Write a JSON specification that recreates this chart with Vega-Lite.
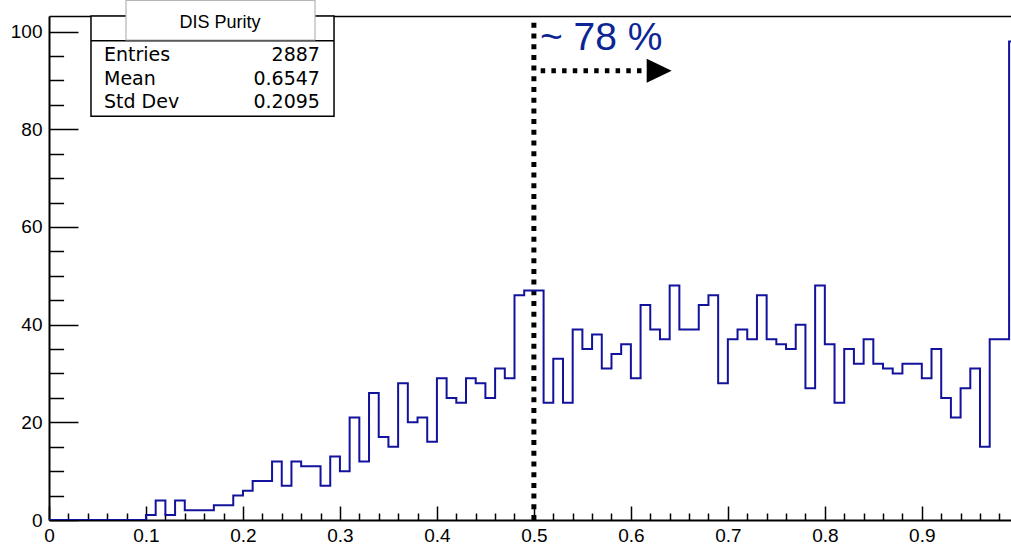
{
  "$schema": "https://vega.github.io/schema/vega-lite/v6.json",
  "width": 963,
  "height": 504,
  "autosize": {"type": "none"},
  "padding": {"left": 49, "top": 16, "right": 0, "bottom": 25},
  "background": "white",
  "config": {
    "view": {"stroke": null},
    "axis": {"grid": false, "labelFont": "Liberation Sans", "labelFontSize": 19, "labelColor": "black", "domainColor": "black", "tickColor": "black", "zindex": 1, "title": null}
  },
  "datasets": {
    "hist": [
      {"purity": 0.00, "entries": 0}, {"purity": 0.01, "entries": 0}, {"purity": 0.02, "entries": 0}, {"purity": 0.03, "entries": 0}, {"purity": 0.04, "entries": 0},
      {"purity": 0.05, "entries": 0}, {"purity": 0.06, "entries": 0}, {"purity": 0.07, "entries": 0}, {"purity": 0.08, "entries": 0}, {"purity": 0.09, "entries": 0},
      {"purity": 0.10, "entries": 1}, {"purity": 0.11, "entries": 4}, {"purity": 0.12, "entries": 1}, {"purity": 0.13, "entries": 4}, {"purity": 0.14, "entries": 2},
      {"purity": 0.15, "entries": 2}, {"purity": 0.16, "entries": 2}, {"purity": 0.17, "entries": 3}, {"purity": 0.18, "entries": 3}, {"purity": 0.19, "entries": 5},
      {"purity": 0.20, "entries": 6}, {"purity": 0.21, "entries": 8}, {"purity": 0.22, "entries": 8}, {"purity": 0.23, "entries": 12}, {"purity": 0.24, "entries": 7},
      {"purity": 0.25, "entries": 12}, {"purity": 0.26, "entries": 11}, {"purity": 0.27, "entries": 11}, {"purity": 0.28, "entries": 7}, {"purity": 0.29, "entries": 13},
      {"purity": 0.30, "entries": 10}, {"purity": 0.31, "entries": 21}, {"purity": 0.32, "entries": 12}, {"purity": 0.33, "entries": 26}, {"purity": 0.34, "entries": 17},
      {"purity": 0.35, "entries": 15}, {"purity": 0.36, "entries": 28}, {"purity": 0.37, "entries": 20}, {"purity": 0.38, "entries": 21}, {"purity": 0.39, "entries": 16},
      {"purity": 0.40, "entries": 29}, {"purity": 0.41, "entries": 25}, {"purity": 0.42, "entries": 24}, {"purity": 0.43, "entries": 29}, {"purity": 0.44, "entries": 28},
      {"purity": 0.45, "entries": 25}, {"purity": 0.46, "entries": 31}, {"purity": 0.47, "entries": 29}, {"purity": 0.48, "entries": 46}, {"purity": 0.49, "entries": 47},
      {"purity": 0.50, "entries": 47}, {"purity": 0.51, "entries": 24}, {"purity": 0.52, "entries": 33}, {"purity": 0.53, "entries": 24}, {"purity": 0.54, "entries": 39},
      {"purity": 0.55, "entries": 35}, {"purity": 0.56, "entries": 38}, {"purity": 0.57, "entries": 31}, {"purity": 0.58, "entries": 34}, {"purity": 0.59, "entries": 36},
      {"purity": 0.60, "entries": 29}, {"purity": 0.61, "entries": 44}, {"purity": 0.62, "entries": 39}, {"purity": 0.63, "entries": 37}, {"purity": 0.64, "entries": 48},
      {"purity": 0.65, "entries": 39}, {"purity": 0.66, "entries": 39}, {"purity": 0.67, "entries": 44}, {"purity": 0.68, "entries": 46}, {"purity": 0.69, "entries": 28},
      {"purity": 0.70, "entries": 37}, {"purity": 0.71, "entries": 39}, {"purity": 0.72, "entries": 37}, {"purity": 0.73, "entries": 46}, {"purity": 0.74, "entries": 37},
      {"purity": 0.75, "entries": 36}, {"purity": 0.76, "entries": 35}, {"purity": 0.77, "entries": 40}, {"purity": 0.78, "entries": 27}, {"purity": 0.79, "entries": 48},
      {"purity": 0.80, "entries": 36}, {"purity": 0.81, "entries": 24}, {"purity": 0.82, "entries": 35}, {"purity": 0.83, "entries": 32}, {"purity": 0.84, "entries": 37},
      {"purity": 0.85, "entries": 32}, {"purity": 0.86, "entries": 31}, {"purity": 0.87, "entries": 30}, {"purity": 0.88, "entries": 32}, {"purity": 0.89, "entries": 32},
      {"purity": 0.90, "entries": 29}, {"purity": 0.91, "entries": 35}, {"purity": 0.92, "entries": 25}, {"purity": 0.93, "entries": 21}, {"purity": 0.94, "entries": 27},
      {"purity": 0.95, "entries": 31}, {"purity": 0.96, "entries": 15}, {"purity": 0.97, "entries": 37}, {"purity": 0.98, "entries": 37}, {"purity": 0.99, "entries": 98},
      {"purity": 1.00, "entries": 98}
    ],
    "stats": [
      {"stat": "Entries", "value": "2887"},
      {"stat": "Mean", "value": "0.6547"},
      {"stat": "Std Dev", "value": "0.2095"}
    ],
    "one": [{"cut": 0.5, "label": "~ 78 %", "title": "DIS Purity"}]
  },
  "layer": [
    {
      "data": {"name": "one"},
      "mark": {"type": "rule", "strokeDash": [5, 5.7], "strokeWidth": 5, "color": "black"},
      "encoding": {
        "x": {"field": "cut", "type": "quantitative", "scale": {"domain": [0, 0.993], "nice": false, "zero": false},
              "axis": {"orient": "bottom", "values": [0.02,0.04,0.06,0.08,0.12,0.14,0.16,0.18,0.22,0.24,0.26,0.28,0.32,0.34,0.36,0.38,0.42,0.44,0.46,0.48,0.52,0.54,0.56,0.58,0.62,0.64,0.66,0.68,0.72,0.74,0.76,0.78,0.82,0.84,0.86,0.88,0.92,0.94,0.96,0.98],
                       "tickSize": -7, "tickWidth": 1.5, "labels": false, "domain": false}},
        "y": {"datum": 0, "type": "quantitative", "scale": {"domain": [0, 103.2], "nice": false, "zero": false},
              "axis": {"orient": "left", "values": [5,10,15,25,30,35,45,50,55,65,70,75,85,90,95], "tickSize": -14.6, "tickWidth": 1.5, "labels": false, "domain": false}},
        "y2": {"datum": 103.2}
      }
    },
    {
      "data": {"name": "hist"},
      "mark": {"type": "line", "interpolate": "step-after", "color": "#12129c", "strokeWidth": 2, "clip": true},
      "encoding": {
        "x": {"field": "purity", "type": "quantitative", "scale": {"domain": [0, 0.993], "nice": false, "zero": false},
              "axis": {"orient": "bottom", "values": [0,0.1,0.2,0.3,0.4,0.5,0.6,0.7,0.8,0.9], "format": "~g", "tickSize": -14, "tickWidth": 1.5, "labelPadding": 20, "domainWidth": 2, "labelFlush": false}},
        "y": {"field": "entries", "type": "quantitative", "scale": {"domain": [0, 103.2], "nice": false, "zero": false},
              "axis": {"orient": "left", "values": [0,20,40,60,80,100], "format": "d", "tickSize": -29, "tickWidth": 1.5, "labelPadding": 36, "domainWidth": 2}}
      }
    },
    {
      "data": {"name": "one"},
      "mark": {"type": "rule", "strokeDash": [4.5, 6.2], "strokeWidth": 5, "color": "black"},
      "encoding": {
        "x": {"datum": 0.507, "type": "quantitative", "scale": {"domain": [0, 0.993], "nice": false, "zero": false},
              "axis": {"orient": "top", "ticks": false, "labels": false, "domainWidth": 1.5, "zindex": 0}},
        "x2": {"datum": 0.615},
        "y": {"datum": 92.0, "type": "quantitative", "scale": {"domain": [0, 103.2], "nice": false, "zero": false}, "axis": null}
      }
    },
    {
      "data": {"name": "one"},
      "mark": {"type": "point", "shape": "M-1,-0.96L1,0L-1,0.96Z", "size": 625, "filled": true, "color": "black", "opacity": 1, "strokeWidth": 0},
      "encoding": {
        "x": {"datum": 0.6292, "type": "quantitative", "scale": {"domain": [0, 0.993], "nice": false, "zero": false}, "axis": null},
        "y": {"datum": 92.0, "type": "quantitative", "scale": {"domain": [0, 103.2], "nice": false, "zero": false}, "axis": null}
      }
    },
    {
      "data": {"name": "one"},
      "mark": {"type": "text", "align": "left", "baseline": "alphabetic", "font": "Liberation Sans", "fontSize": 39, "color": "#0c2594"},
      "encoding": {
        "x": {"datum": 0.5063, "type": "quantitative", "scale": {"domain": [0, 0.993], "nice": false, "zero": false}, "axis": null},
        "y": {"datum": 96.24, "type": "quantitative", "scale": {"domain": [0, 103.2], "nice": false, "zero": false}, "axis": null},
        "text": {"field": "label"}
      }
    },
    {
      "data": {"name": "one"},
      "mark": {"type": "rect", "fill": "white", "stroke": "black", "strokeWidth": 1.5, "clip": false},
      "encoding": {
        "x": {"datum": 0.0433, "type": "quantitative", "scale": {"domain": [0, 0.993], "nice": false, "zero": false}, "axis": null},
        "x2": {"datum": 0.2939},
        "y": {"datum": 82.66, "type": "quantitative", "scale": {"domain": [0, 103.2], "nice": false, "zero": false}, "axis": null},
        "y2": {"datum": 103.2}
      }
    },
    {
      "data": {"name": "one"},
      "mark": {"type": "rule", "stroke": "black", "strokeWidth": 1.5},
      "encoding": {
        "x": {"datum": 0.0433, "type": "quantitative", "scale": {"domain": [0, 0.993], "nice": false, "zero": false}, "axis": null},
        "x2": {"datum": 0.2939},
        "y": {"datum": 98.14, "type": "quantitative", "scale": {"domain": [0, 103.2], "nice": false, "zero": false}, "axis": null}
      }
    },
    {
      "data": {"name": "one"},
      "mark": {"type": "rect", "fill": "white", "stroke": "#b5b5b5", "strokeWidth": 1.2, "clip": false},
      "encoding": {
        "x": {"datum": 0.0794, "type": "quantitative", "scale": {"domain": [0, 0.993], "nice": false, "zero": false}, "axis": null},
        "x2": {"datum": 0.2743},
        "y": {"datum": 98.29, "type": "quantitative", "scale": {"domain": [0, 103.2], "nice": false, "zero": false}, "axis": null},
        "y2": {"datum": 106.4}
      }
    },
    {
      "data": {"name": "one"},
      "mark": {"type": "text", "align": "center", "baseline": "alphabetic", "font": "Liberation Sans", "fontSize": 18, "color": "black", "clip": false},
      "encoding": {
        "x": {"datum": 0.1763, "type": "quantitative", "scale": {"domain": [0, 0.993], "nice": false, "zero": false}, "axis": null},
        "y": {"datum": 100.68, "type": "quantitative", "scale": {"domain": [0, 103.2], "nice": false, "zero": false}, "axis": null},
        "text": {"field": "title"}
      }
    },
    {
      "data": {"name": "stats"},
      "transform": [{"filter": "datum.stat == 'Entries'"}],
      "layer": [
        {"mark": {"type": "text", "align": "left", "baseline": "alphabetic", "font": "DejaVu Sans", "fontSize": 19, "color": "black"},
         "encoding": {"text": {"field": "stat"},
           "x": {"datum": 0.0567, "type": "quantitative", "scale": {"domain": [0, 0.993], "nice": false, "zero": false}, "axis": null}}},
        {"mark": {"type": "text", "align": "right", "baseline": "alphabetic", "font": "DejaVu Sans", "fontSize": 19, "color": "black"},
         "encoding": {"text": {"field": "value"},
           "x": {"datum": 0.2794, "type": "quantitative", "scale": {"domain": [0, 0.993], "nice": false, "zero": false}, "axis": null}}}
      ],
      "encoding": {
        "y": {"datum": 93.99, "type": "quantitative", "scale": {"domain": [0, 103.2], "nice": false, "zero": false}, "axis": null}
      }
    },
    {
      "data": {"name": "stats"},
      "transform": [{"filter": "datum.stat == 'Mean'"}],
      "layer": [
        {"mark": {"type": "text", "align": "left", "baseline": "alphabetic", "font": "DejaVu Sans", "fontSize": 19, "color": "black"},
         "encoding": {"text": {"field": "stat"},
           "x": {"datum": 0.0567, "type": "quantitative", "scale": {"domain": [0, 0.993], "nice": false, "zero": false}, "axis": null}}},
        {"mark": {"type": "text", "align": "right", "baseline": "alphabetic", "font": "DejaVu Sans", "fontSize": 19, "color": "black"},
         "encoding": {"text": {"field": "value"},
           "x": {"datum": 0.2794, "type": "quantitative", "scale": {"domain": [0, 0.993], "nice": false, "zero": false}, "axis": null}}}
      ],
      "encoding": {
        "y": {"datum": 89.07, "type": "quantitative", "scale": {"domain": [0, 103.2], "nice": false, "zero": false}, "axis": null}
      }
    },
    {
      "data": {"name": "stats"},
      "transform": [{"filter": "datum.stat == 'Std Dev'"}],
      "layer": [
        {"mark": {"type": "text", "align": "left", "baseline": "alphabetic", "font": "DejaVu Sans", "fontSize": 19, "color": "black"},
         "encoding": {"text": {"field": "stat"},
           "x": {"datum": 0.0567, "type": "quantitative", "scale": {"domain": [0, 0.993], "nice": false, "zero": false}, "axis": null}}},
        {"mark": {"type": "text", "align": "right", "baseline": "alphabetic", "font": "DejaVu Sans", "fontSize": 19, "color": "black"},
         "encoding": {"text": {"field": "value"},
           "x": {"datum": 0.2794, "type": "quantitative", "scale": {"domain": [0, 0.993], "nice": false, "zero": false}, "axis": null}}}
      ],
      "encoding": {
        "y": {"datum": 84.3, "type": "quantitative", "scale": {"domain": [0, 103.2], "nice": false, "zero": false}, "axis": null}
      }
    }
  ],
  "resolve": {"axis": {"x": "independent", "y": "independent"}}
}
